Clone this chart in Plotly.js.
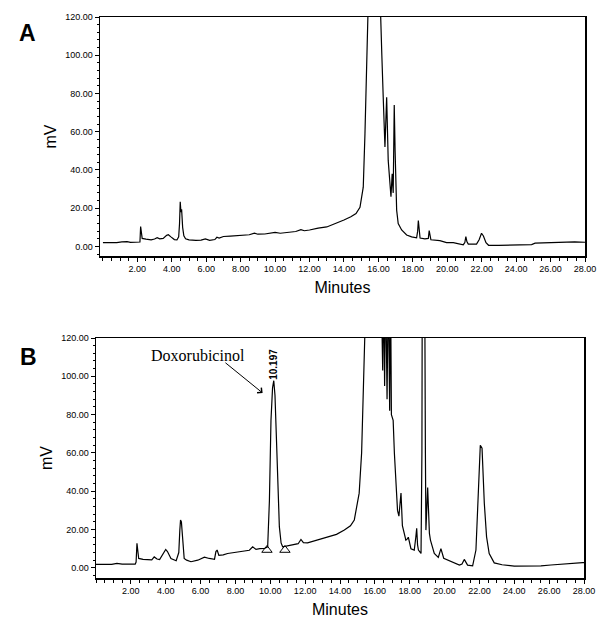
<!DOCTYPE html>
<html>
<head>
<meta charset="utf-8">
<script src="https://cdn.plot.ly/plotly-3.0.1.min.js"></script>
<style>
  html, body { margin: 0; padding: 0; background: #fff; }
  #chart { width: 604px; height: 622px; }
</style>
</head>
<body>
<div id="chart"></div>
<script>
// chromatogram A (blank), minutes / mV
const timeA = [0, 0.8, 1.1, 1.4, 1.6, 2.1, 2.15, 2.19, 2.23, 2.28, 2.5, 2.8, 3.0, 3.15, 3.3, 3.5, 3.7, 3.8, 3.95, 4.15,
  4.3, 4.4, 4.45, 4.49, 4.53, 4.57, 4.63, 4.7, 4.8, 5.0, 5.4, 5.7, 5.95, 6.2, 6.5, 6.62, 6.75, 7.0, 7.4, 7.8,
  8.2, 8.5, 8.8, 9.0, 9.4, 9.8, 10.0, 10.3, 10.8, 11.2, 11.5, 11.7, 12.0, 12.5, 13.0, 13.5, 14.0, 14.4, 14.7, 14.93,
  15.05, 15.12, 15.22, 15.32, 15.4, 15.5, 16.0, 16.1, 16.2, 16.28, 16.38, 16.48, 16.57, 16.73, 16.8, 16.86, 16.92, 16.97, 17.0, 17.06,
  17.15, 17.35, 17.64, 17.93, 18.22, 18.28, 18.32, 18.36, 18.42, 18.7, 18.9, 18.95, 19.0, 19.05, 19.57, 19.96, 20.35, 20.93, 21.02, 21.08,
  21.14, 21.22, 21.7, 21.85, 21.99, 22.1, 22.25, 22.4, 23.0, 24.0, 24.9, 25.1, 25.8, 26.3, 26.9, 27.4, 28.0];
const mvA = [2.0, 2.0, 2.4, 2.5, 2.1, 2.1, 2.3, 10.4, 7.0, 4.2, 3.8, 3.4, 3.9, 4.6, 4.0, 4.2, 5.8, 6.1, 5.0, 3.6,
  3.4, 5.0, 12.0, 23.4, 18.0, 19.5, 10.0, 5.5, 4.0, 3.4, 3.2, 3.3, 3.9, 3.2, 3.6, 4.8, 4.4, 5.2, 5.4, 5.6,
  5.9, 6.1, 7.0, 6.4, 6.5, 7.0, 7.4, 6.9, 7.2, 7.8, 8.8, 8.2, 8.6, 9.6, 10.2, 11.8, 13.8, 15.5, 17.2, 20.5,
  26, 31, 59, 97.5, 125, 160, 160, 125, 100, 78, 52, 78, 45, 26, 38, 28, 74, 50, 38, 19,
  12, 8.6, 6.0, 5.0, 4.5, 8, 13.5, 8, 4.4, 4.0, 4.2, 8.3, 5, 3.5, 3.0, 2.0, 2.0, 0.9, 2.0, 5.1,
  2.5, 1.2, 1.2, 3.5, 6.9, 5.5, 2.0, 0.6, 0.6, 0.7, 1.0, 1.7, 1.9, 2.2, 2.5, 2.4, 2.2];

// chromatogram B (sample with doxorubicinol)
const timeB = [0, 0.9, 1.2, 1.5, 2.25, 2.3, 2.35, 2.4, 2.45, 2.7, 3.0, 3.2, 3.34, 3.5, 3.65, 3.85, 4.0, 4.1, 4.3, 4.6,
  4.75, 4.81, 4.85, 4.9, 4.97, 5.06, 5.2, 5.45, 5.84, 6.22, 6.5, 6.8, 6.88, 6.95, 7.05, 7.3, 7.55, 8.0, 8.32, 8.8,
  8.99, 9.18, 9.4, 9.66, 9.85, 9.95, 10.04, 10.13, 10.2, 10.27, 10.38, 10.52, 10.62, 10.71, 11.19, 11.6, 11.76, 11.9, 12.14, 12.7,
  13.29, 13.8, 14.25, 14.6, 14.82, 15.1, 15.24, 15.36, 15.45, 15.6, 16.3, 16.42, 16.45, 16.5, 16.56, 16.62, 16.7, 16.77, 16.85, 16.9,
  16.95, 17.05, 17.12, 17.2, 17.3, 17.38, 17.45, 17.5, 17.58, 17.69, 17.78, 17.85, 17.92, 18.07, 18.26, 18.35, 18.4, 18.45, 18.5, 18.65,
  18.7, 18.72, 18.86, 18.9, 18.93, 19.03, 19.13, 19.19, 19.41, 19.64, 19.79, 19.95, 20.37, 20.85, 21.0, 21.13, 21.32, 21.61, 21.8, 21.93,
  22.05, 22.15, 22.28, 22.41, 22.56, 22.85, 23.3, 24.0, 24.8, 25.53, 26.1, 26.68, 27.3, 27.92, 28.0];
const mvB = [1.8, 1.8, 2.3, 1.9, 1.9, 3.0, 12.8, 8, 4.9, 4.4, 4.3, 4.2, 5.7, 4.6, 4.3, 7.5, 9.6, 8.5, 4.9, 3.7,
  8, 19.7, 25, 24, 14.5, 4.9, 4.0, 3.2, 4.0, 5.6, 4.9, 4.5, 8.5, 9.3, 6.5, 6.8, 7.5, 8.0, 8.4, 9.2,
  11.0, 9.6, 10.0, 10.1, 11.0, 35, 77, 94, 97.7, 90, 60, 21.5, 13, 11, 11.9, 12.6, 14.8, 13.2, 13.0, 14.4,
  16.2, 17.5, 19.7, 22.0, 25, 39, 60, 95, 130, 180, 180, 130, 103, 150, 95, 150, 88, 150, 82, 150,
  80, 77, 60, 45, 30, 27, 35, 39, 22, 18, 14.5, 15, 16, 10, 9.3, 16, 20.6, 12, 9.3, 7.5,
  60, 150, 150, 60, 19.7, 42, 18, 14.5, 7.5, 5.5, 10, 5, 3.2, 1.4, 2.0, 4.4, 1.4, 1.0, 9.3, 42,
  64, 62.5, 33.7, 16.2, 7.5, 2.6, 1.6, 0.9, 0.9, 1.0, 1.5, 2.0, 2.4, 2.7, 2.7];

// integration start / end marks around the doxorubicinol peak
const markTime = [9.81, 10.84];
const markMv = [9.3, 9.3];

const xTicks = [2, 4, 6, 8, 10, 12, 14, 16, 18, 20, 22, 24, 26, 28];
const yTicks = [0, 20, 40, 60, 80, 100, 120];

const font = 'Liberation Sans, Arial, sans-serif';

function xAxis(domain, range, anchor) {
    return {
        domain: domain, range: range, anchor: anchor,
        tickmode: 'array', tickvals: xTicks, tickformat: '.2f',
        ticks: 'outside', ticklen: 4, tickwidth: 1, tickcolor: '#000',
        minor: { tickmode: 'linear', tick0: 0, dtick: 0.5, ticks: 'outside', ticklen: 3, tickwidth: 1, tickcolor: '#000' },
        tickfont: { family: font, size: 9, color: '#000' },
        showline: true, linecolor: '#000', linewidth: 1.5, mirror: true,
        showgrid: false, zeroline: false,
        title: { text: 'Minutes', font: { family: font, size: 16, color: '#000' }, standoff: 8 }
    };
}

function yAxis(domain, range, anchor) {
    return {
        domain: domain, range: range, anchor: anchor,
        tickmode: 'array', tickvals: yTicks, tickformat: '.2f',
        ticks: 'outside', ticklen: 4, tickwidth: 1, tickcolor: '#000',
        minor: { tickmode: 'linear', tick0: 0, dtick: 4, ticks: 'outside', ticklen: 2, tickwidth: 1, tickcolor: '#000' },
        tickfont: { family: font, size: 9, color: '#000' },
        showline: true, linecolor: '#000', linewidth: 1.5, mirror: true,
        showgrid: false, zeroline: false,
        title: { text: 'mV', font: { family: font, size: 16, color: '#000' }, standoff: 4 }
    };
}

const traces = [
    { x: timeA, y: mvA, xaxis: 'x', yaxis: 'y', mode: 'lines', type: 'scatter',
      line: { color: '#000', width: 1.2 }, hoverinfo: 'skip' },
    { x: timeB, y: mvB, xaxis: 'x2', yaxis: 'y2', mode: 'lines', type: 'scatter',
      line: { color: '#000', width: 1.2 }, hoverinfo: 'skip' },
    { x: markTime, y: markMv, xaxis: 'x2', yaxis: 'y2', mode: 'markers', type: 'scatter',
      marker: { symbol: 'triangle-up-open', size: 9, color: '#000', line: { width: 1, color: '#000' } },
      hoverinfo: 'skip' }
];

const layout = {
    width: 604, height: 622,
    margin: { l: 0, r: 0, t: 0, b: 0 },
    paper_bgcolor: '#fff', plot_bgcolor: '#fff',
    showlegend: false,
    xaxis: xAxis([100 / 604, 585 / 604], [-0.17, 28], 'y'),
    yaxis: yAxis([366 / 622, 605 / 622], [-5, 120], 'x'),
    xaxis2: xAxis([96 / 604, 584 / 604], [0, 28], 'y2'),
    yaxis2: yAxis([44 / 622, 284 / 622], [-5.3, 120], 'x2'),
    annotations: [
        { text: '<b>A</b>', xref: 'paper', yref: 'paper', x: 16.5 / 604, y: 1 - 18.5 / 622,
          showarrow: false, font: { family: font, size: 23, color: '#000' } },
        { text: '<b>B</b>', xref: 'paper', yref: 'paper', x: 17.5 / 604, y: 1 - 357 / 622,
          showarrow: false, font: { family: font, size: 23, color: '#000' } },
        { text: 'Doxorubicinol', xref: 'x2', yref: 'y2', x: 5.85, y: 110.8,
          showarrow: false, font: { family: 'Liberation Serif, DejaVu Serif, serif', size: 16, color: '#000' } },
        { text: '', xref: 'x2', yref: 'y2', x: 9.56, y: 91.3,
          axref: 'x2', ayref: 'y2', ax: 7.34, ay: 107.7,
          showarrow: true, arrowhead: 4, arrowsize: 1.3, arrowwidth: 1, arrowcolor: '#000' },
        { text: '<b>10.197</b>', xref: 'x2', yref: 'y2', x: 10.21, y: 106.5, textangle: -90,
          showarrow: false, font: { family: font, size: 10, color: '#000' } }
    ]
};

Plotly.newPlot('chart', traces, layout, { displayModeBar: false, staticPlot: true });
</script>
</body>
</html>
